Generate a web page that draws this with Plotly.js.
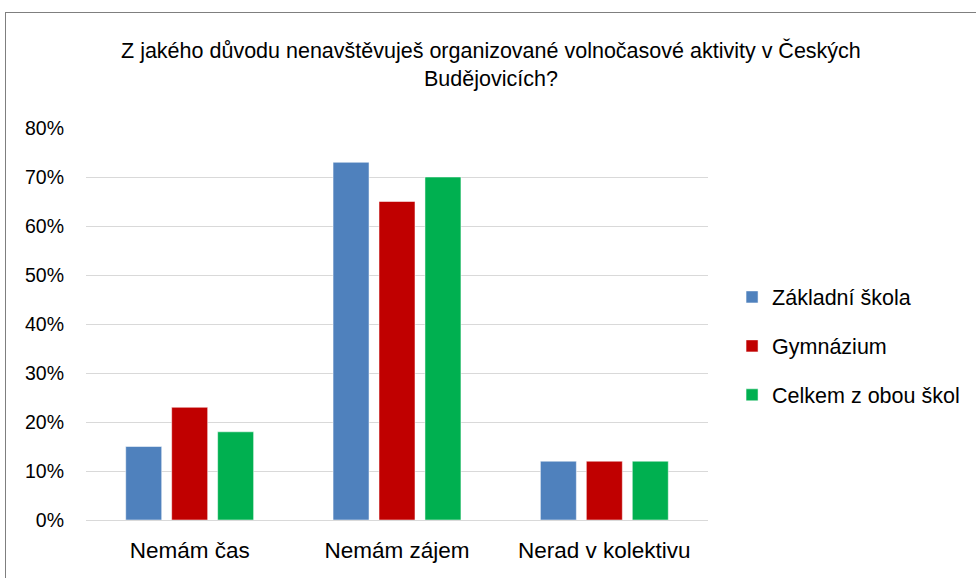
<!DOCTYPE html>
<html>
<head>
<meta charset="utf-8">
<script src="https://cdn.plot.ly/plotly-3.0.1.min.js"></script>
<style>
  html, body { margin: 0; padding: 0; background: #fff; overflow: hidden; }
  #chart { width: 976px; height: 578px; }
  #frame { position: absolute; left: 5px; top: 12px; width: 1000px; height: 600px; border: 1px solid #7f7f7f; pointer-events: none; }
</style>
</head>
<body>
<div id="chart"></div>
<div id="frame"></div>
<script>
const categories = ["Nemám čas", "Nemám zájem", "Nerad v kolektivu"];
const seriesNames = ["Základní škola", "Gymnázium", "Celkem z obou škol"];
const zakladniSkola = [0.15, 0.73, 0.12];
const gymnazium = [0.23, 0.65, 0.12];
const celkem = [0.18, 0.70, 0.12];
const yTickValues = [0, 0.1, 0.2, 0.3, 0.4, 0.5, 0.6, 0.7, 0.8];
const colors = ["#4f81bd", "#c00000", "#00b050"];

const FONT = "Liberation Sans, Arial, sans-serif";
const seriesValues = [zakladniSkola, gymnazium, celkem];
const traces = seriesValues.map((vals, i) => ({
  type: "bar",
  name: seriesNames[i],
  x: categories,
  y: vals,
  legendgroup: "g" + i,
  marker: { color: colors[i], line: { color: "rgba(255,255,255,0.5)", width: 1 } },
  hoverinfo: "x+y+name"
}));

const layout = {
  width: 976,
  height: 578,
  paper_bgcolor: "#ffffff",
  plot_bgcolor: "#ffffff",
  font: { family: FONT, color: "#000000", size: 20 },
  title: {
    text: "Z jakého důvodu nenavštěvuješ organizované volnočasové aktivity v Českých<br>Budějovicích?",
    font: { size: 21.5, family: FONT, color: "#000" },
    x: 0.503, xanchor: "center",
    y: 0.9, yanchor: "middle"
  },
  margin: { l: 86, r: 267, t: 128, b: 58 },
  barmode: "group",
  bargap: 0.335,
  bargroupgap: 0.217,
  xaxis: {
    type: "category",
    tickfont: { size: 22.5 },
    showgrid: false,
    showline: true,
    linecolor: "#d9d9d9",
    linewidth: 1,
    ticks: "",
    ticklen: 0,
    ticklabelstandoff: 10,
    automargin: false
  },
  yaxis: {
    range: [0, 0.8],
    tickvals: yTickValues,
    tickformat: ".0%",
    tickfont: { size: 19.5 },
    showgrid: true,
    gridcolor: "#d9d9d9",
    gridwidth: 1,
    zeroline: true,
    zerolinecolor: "#d9d9d9",
    showline: false,
    ticks: "",
    ticklabelstandoff: 21,
    automargin: false
  },
  legend: {
    x: 1.037, xanchor: "left",
    y: 0.444, yanchor: "middle",
    font: { size: 21.5 },
    traceorder: "grouped",
    tracegroupgap: 18,
    itemwidth: 30
  },
  showlegend: true
};

Plotly.newPlot("chart", traces, layout, { displayModeBar: false, staticPlot: true });
</script>
</body>
</html>
